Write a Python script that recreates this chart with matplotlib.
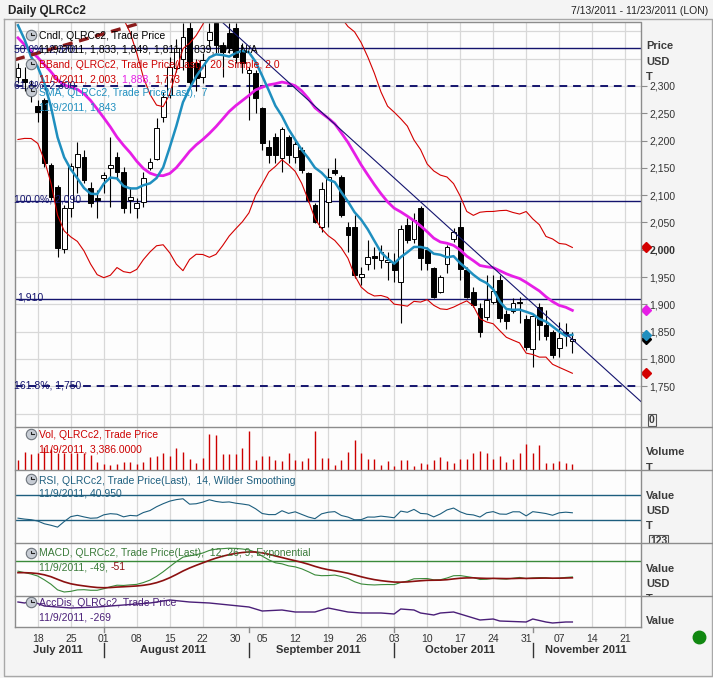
import matplotlib
matplotlib.use("Agg")
import matplotlib.pyplot as plt
import numpy as np
import pandas as pd

plt.rcParams["font.family"] = ["Liberation Sans", "DejaVu Sans"]

W, H = 713, 678

# ------------------------------
# Data
# ------------------------------

first_session = "2011-07-13"
last_session = "2011-11-23"
closed_days = ["2011-08-29"]  # LON bank holiday

# closes of the sessions before 7/13 (not drawn), estimated so that the
# first SMA / BBand / MACD values agree with the chart
seed_close = [2560, 2530, 2480, 2420, 2360, 2300, 2260, 2240, 2250, 2290,
              2330, 2403, 2460, 2490, 2513, 2380, 2367, 2400, 2394]

opens = [2316, 2313, 2300, 2263, 2274, 2155, 2115, 2001, 2077, 2152,
         2170, 2113, 2095, 2132, 2150, 2170, 2143, 2091, 2077, 2088,
         2150, 2166, 2243, 2284, 2333, 2350, 2406, 2342, 2316, 2384,
         2415, 2375, 2397, 2406, 2366, 2324, 2324, 2260, 2188, 2207,
         2168, 2207, 2170, 2183, 2141, 2082, 2042, 2088, 2146, 2133,
         2042, 2042, 1950, 1974, 1989, 1981, 1978, 1978, 1941, 2045,
         2020, 2077, 2000, 1967, 1923, 1974, 2020, 2042, 1963, 1923,
         1893, 1877, 1905, 1945, 1882, 1888, 1903, 1873, 1818, 1895,
         1862, 1849, 1820, 1849, 1833]
highs = [2342, 2335, 2310, 2274, 2278, 2159, 2119, 2082, 2159, 2197,
         2183, 2124, 2110, 2143, 2207, 2179, 2152, 2115, 2095, 2143,
         2168, 2241, 2289, 2353, 2385, 2415, 2420, 2350, 2360, 2415,
         2430, 2380, 2415, 2415, 2379, 2335, 2329, 2262, 2201, 2214,
         2225, 2210, 2201, 2188, 2143, 2086, 2124, 2150, 2168, 2137,
         2051, 2064, 1969, 2018, 2005, 2009, 1996, 1994, 2045, 2058,
         2067, 2080, 2005, 1969, 1954, 2009, 2040, 2088, 1969, 1932,
         1903, 1954, 1954, 1954, 1890, 1912, 1914, 1881, 1881, 1903,
         1890, 1853, 1868, 1866, 1849]
lows = [2305, 2290, 2270, 2234, 2152, 2091, 1987, 1994, 2060, 2104,
        2122, 2078, 2058, 2104, 2078, 2128, 2067, 2067, 2058, 2078,
        2146, 2164, 2234, 2278, 2325, 2330, 2298, 2290, 2305, 2371,
        2360, 2316, 2360, 2342, 2324, 2238, 2251, 2183, 2159, 2159,
        2143, 2159, 2159, 2141, 2088, 2049, 2033, 2042, 2137, 2060,
        1996, 1948, 1936, 1963, 1965, 1967, 1945, 1941, 1866, 2012,
        2012, 1963, 1963, 1912, 1921, 1958, 2014, 1945, 1912, 1895,
        1840, 1871, 1900, 1868, 1855, 1884, 1866, 1816, 1785, 1835,
        1835, 1802, 1804, 1824, 1811]
closes = [2333, 2307, 2290, 2252, 2159, 2097, 2003, 2077, 2153, 2175,
          2128, 2086, 2091, 2137, 2155, 2143, 2077, 2097, 2086, 2132,
          2161, 2223, 2280, 2335, 2370, 2390, 2307, 2315, 2348, 2399,
          2375, 2362, 2370, 2353, 2342, 2329, 2278, 2196, 2174, 2174,
          2221, 2174, 2194, 2146, 2091, 2051, 2111, 2133, 2141, 2064,
          2027, 1954, 1956, 1987, 1985, 1996, 1981, 1963, 2038, 2018,
          2055, 1985, 1976, 1914, 1950, 2005, 2033, 1965, 1914, 1899,
          1850, 1908, 1925, 1875, 1870, 1903, 1902, 1822, 1879, 1862,
          1842, 1807, 1838, 1846, 1836]
volumes = [5600, 10200, 9000, 9600, 13000, 11900, 9600, 9600, 9600, 9600,
           9600, 8500, 4500, 3400, 2800, 3400, 4500, 4500, 3400, 4500,
           7300, 7900, 9600, 7900, 12400, 10200, 6200, 4000, 6800, 20300,
           19800, 9000, 9000, 9000, 12400, 22000, 5600, 7900, 7900, 5600,
           5100, 9600, 5600, 5100, 6800, 22000, 6800, 6800, 2800, 5600,
           10200, 17000, 9600, 6200, 6200, 2800, 5100, 2300, 5600, 5600,
           2300, 4000, 3400, 5600, 7300, 5100, 4000, 6200, 6200, 9600,
           10700, 9600, 6200, 7900, 4500, 6200, 9600, 14700, 9600, 14100,
           4000, 4000, 5100, 4000, 3386]

# accumulation / distribution, read at a subset of sessions
acc_days = [0, 1, 2, 4, 8, 12, 16, 20, 23, 26, 29, 32, 35, 37, 40, 42, 45,
            47, 50, 52, 55, 57, 58, 60, 61, 63, 64, 66, 68, 70, 72, 73, 77,
            78, 80, 81, 83, 84]
acc_values = [131, 111, 151, 51, 11, 31, 71, 111, 171, 131, 111, 71, 31, -49,
              -29, -69, -69, 11, -69, -89, -89, -109, -9, -29, -89, -129, -89,
              -69, -149, -229, -209, -249, -269, -209, -269, -289, -269, -269]

fib_solid = [2370, 2090, 1910]
fib_dashed = [2300, 1750]
trend_up_days = [-0.45, 18.8]
trend_up_price = [2348, 2416]
trend_down_days = [31.1, 94.4]
trend_down_price = [2415, 1722]

week_ticks = ["2011-07-18", "2011-07-25", "2011-08-01", "2011-08-08",
              "2011-08-15", "2011-08-22", "2011-08-30", "2011-09-05",
              "2011-09-12", "2011-09-19", "2011-09-26", "2011-10-03",
              "2011-10-10", "2011-10-17", "2011-10-24", "2011-10-31",
              "2011-11-07", "2011-11-14", "2011-11-21"]
month_names = ["July 2011", "August 2011", "September 2011", "October 2011",
               "November 2011"]
price_ticks = list(range(1750, 2301, 50))
price_grid = list(range(1700, 2401, 50))
rsi_levels = [70, 30]

# ------------------------------
# Styles
# ------------------------------
GRID = "#d8d8d8"
FRAME = "#8c8c8c"
BB_RED = "#d40000"
MID_MAG = "#e61ee6"
SMA_BLUE = "#1f8fbf"
FIB_NAVY = "#14146e"
TREND_RED = "#8b1a1a"
VOL_RED = "#cc0000"
RSI_COL = "#1d5e7e"
MACD_COL = "#3a8a3a"
SIG_COL = "#8b1010"
ACC_COL = "#4a1f78"
LABEL = "#3c3c3c"

# ------------------------------
# Sessions and indicators
# ------------------------------
sessions = pd.bdate_range(first_session, last_session)
sessions = sessions[~sessions.isin(pd.to_datetime(closed_days))]
n_sessions = len(sessions)
idx = np.arange(len(closes))
o = np.array(opens, float)
c = np.array(closes, float)

close_all = pd.Series(seed_close + closes, dtype=float)
n_seed = len(seed_close)
sma7 = close_all.rolling(7).mean().iloc[n_seed:].to_numpy()
mid20 = close_all.rolling(20).mean()
sd20 = close_all.rolling(20).std(ddof=0)
bb_up = (mid20 + 2 * sd20).iloc[n_seed:].to_numpy()
bb_lo = (mid20 - 2 * sd20).iloc[n_seed:].to_numpy()
bb_mid = mid20.iloc[n_seed:].to_numpy()

delta = close_all.diff()
avg_gain = delta.clip(lower=0).ewm(alpha=1 / 14, adjust=False).mean()
avg_loss = (-delta).clip(lower=0).ewm(alpha=1 / 14, adjust=False).mean()
rsi = (100 - 100 / (1 + avg_gain / avg_loss)).iloc[n_seed:].to_numpy()

ema12 = close_all.ewm(span=12, adjust=False).mean()
ema26 = close_all.ewm(span=26, adjust=False).mean()
macd_all = ema12 - ema26
signal = macd_all.ewm(span=9, adjust=False).mean().iloc[n_seed:].to_numpy()
macd = macd_all.iloc[n_seed:].to_numpy()

tick_pos = [sessions.get_loc(pd.Timestamp(d)) for d in week_ticks]
tick_lab = [pd.Timestamp(d).strftime("%d") for d in week_ticks]
month_id = sessions.to_period("M")
month_start = [i for i in range(n_sessions) if i == 0 or month_id[i] != month_id[i - 1]]
month_mid = [np.mean(np.where(month_id == m)[0]) for m in month_id.unique()]


# ------------------------------
# Figure
# ------------------------------
def rect(x0, y0, x1, y1):
    return [x0 / W, 1 - y1 / H, (x1 - x0) / W, (y1 - y0) / H]


fig = plt.figure(figsize=(W / 100, H / 100), dpi=100, facecolor="#f4f4f4")

rows = [(22, 427), (427, 470), (470, 543), (543, 596), (596, 627)]
axes = []
labs = []
for top, bot in rows:
    ax = fig.add_axes(rect(15, top, 641, bot))
    ax.set_facecolor("#fdfdfd")
    for sp in ax.spines.values():
        sp.set_visible(False)
    ax.tick_params(left=False, bottom=False, right=False,
                   labelleft=False, labelbottom=False)
    ax.set_xlim(-0.45, 94.4)
    for t in tick_pos:
        ax.axvline(t, color=GRID, lw=0.9, zorder=0)
    axes.append(ax)
    lab = fig.add_axes(rect(641, top, 713, bot))
    lab.set_xlim(641, 713)
    lab.set_ylim(bot, top)
    lab.axis("off")
    labs.append(lab)
ax_p, ax_v, ax_r, ax_m, ax_a = axes
lab_p, lab_v, lab_r, lab_m, lab_a = labs

# --- price panel ---
ax_p.set_ylim(1675.5, 2417)
for lvl in price_grid:
    ax_p.axhline(lvl, color=GRID, lw=0.9, zorder=0)
ax_p.yaxis.tick_right()
ax_p.set_yticks(price_ticks)
ax_p.set_yticklabels([f"{v:,}" for v in price_ticks])
ax_p.tick_params(axis="y", right=True, labelright=True, length=4,
                 color=FRAME, labelsize=7.5, labelcolor="#333333", pad=2)
for tl in ax_p.get_yticklabels():
    if tl.get_text() == "2,000":
        tl.set_fontweight("bold")

for lvl in fib_solid:
    ax_p.axhline(lvl, color=FIB_NAVY, lw=1.0, zorder=1)
for lvl in fib_dashed:
    ax_p.axhline(lvl, color=FIB_NAVY, lw=1.4, dashes=(4, 3), zorder=1)
ax_p.plot(trend_up_days, trend_up_price, color=TREND_RED, lw=2.4,
          dashes=(3, 2), zorder=6)
ax_p.plot(trend_down_days, trend_down_price, color=FIB_NAVY, lw=0.8, zorder=6)

up = c >= o
body_lo = np.minimum(o, c)
body_h = np.maximum(np.abs(c - o), 1.5)
ax_p.vlines(idx, lows, highs, color="black", lw=0.8, zorder=2)
ax_p.bar(idx, body_h, bottom=body_lo, width=0.72,
         color=np.where(up, "white", "black"), edgecolor="black",
         linewidth=0.7, zorder=3)

ax_p.plot(idx, bb_up, color=BB_RED, lw=0.8, zorder=4)
ax_p.plot(idx, bb_lo, color=BB_RED, lw=0.8, zorder=4)
ax_p.plot(idx, bb_mid, color=MID_MAG, lw=2.0, zorder=4)
ax_p.plot(idx, sma7, color=SMA_BLUE, lw=1.8, zorder=5)

ytr = ax_p.get_yaxis_transform()
for val, col in [(bb_up[-1], BB_RED), (bb_mid[-1], MID_MAG),
                 (bb_lo[-1], BB_RED), (c[-1], "black"), (sma7[-1], SMA_BLUE)]:
    ax_p.plot(1.008, val, marker="D", ms=5, color=col, transform=ytr,
              clip_on=False, zorder=7)

# --- volume panel ---
ax_v.set_ylim(0, 24300)
ax_v.vlines(idx, 0, volumes, color=VOL_RED, lw=1.0, zorder=2)

# --- RSI panel ---
ax_r.set_ylim(-7.6, 109.2)
for lvl in rsi_levels:
    ax_r.axhline(lvl, color=RSI_COL, lw=1.0, zorder=1)
ax_r.plot(idx, rsi, color=RSI_COL, lw=0.8, zorder=2)

# --- MACD panel: zero line 18 px below the top, lowest value 4 px above the bottom ---
macd_low = min(macd.min(), signal.min())
px_per_unit = 31.0 / -macd_low
ax_m.set_ylim(-35.0 / px_per_unit, 18.0 / px_per_unit)
ax_m.axhline(0, color=MACD_COL, lw=1.0, zorder=1)
ax_m.plot(idx, macd, color=MACD_COL, lw=0.8, zorder=2)
ax_m.plot(idx, signal, color=SIG_COL, lw=1.2, zorder=3)

# --- AccDis panel ---
ax_a.set_ylim(-369, 251)
ax_a.plot(acc_days, acc_values, color=ACC_COL, lw=1.0, zorder=2)

ax_a.set_xticks(tick_pos)
ax_a.set_xticklabels(tick_lab)
ax_a.tick_params(axis="x", bottom=True, labelbottom=True, length=0, pad=5,
                 labelsize=7.5, labelcolor="#333333")
xtr = ax_a.get_xaxis_transform()
for i in month_start[1:]:
    ax_a.plot([i, i], [0, -0.17], color=FRAME, lw=1, transform=xtr, clip_on=False)
    ax_a.plot([i, i], [-0.52, -0.97], color="#333333", lw=1, transform=xtr,
              clip_on=False)
for m, name in zip(month_mid, month_names):
    ax_a.text(m, -0.74, name, transform=xtr, ha="center", va="center",
              fontsize=8, fontweight="bold", color="#333333")

# --- right side labels ---
bold = dict(fontsize=8, fontweight="bold", color=LABEL, va="center",
            ha="left", clip_on=True)
for y, s in [(46, "Price"), (62, "USD"), (77, "T")]:
    lab_p.text(646, y, s, **bold)
lab_p.text(649, 420, "0", fontsize=7.5, fontweight="bold", color=LABEL,
           va="center", ha="left",
           bbox=dict(boxstyle="square,pad=0.1", fc="none", ec="#555555", lw=0.8))
lab_v.text(646, 452, "Volume", **bold)
lab_v.text(646, 468, "T", **bold)
for y, s in [(496, "Value"), (511, "USD"), (526, "T")]:
    lab_r.text(646, y, s, **bold)
lab_r.text(650, 541, "123", fontsize=7.5, fontweight="bold", color=LABEL,
           va="center", ha="left", clip_on=True,
           bbox=dict(boxstyle="square,pad=0.1", fc="none", ec="#555555", lw=0.8))
for y, s in [(569, "Value"), (584, "USD"), (599, "T")]:
    lab_m.text(646, y, s, **bold)
lab_a.text(646, 621, "Value", **bold)

# ------------------------------
# Overlay: frame, titles, legends
# ------------------------------
ov = fig.add_axes([0, 0, 1, 1])
ov.set_xlim(0, W)
ov.set_ylim(H, 0)
ov.axis("off")

ov.plot([4, 712, 712, 4, 4], [19, 19, 676, 676, 19], color="#a8a8a8", lw=1)
ov.plot([15, 641, 641], [22, 22, 627], color=FRAME, lw=1)
ov.plot([15, 15], [22, 627], color=FRAME, lw=1)
for y in [427, 470, 543, 596]:
    ov.plot([15, 713], [y, y], color=FRAME, lw=1)
ov.plot([15, 641], [627, 627], color=FRAME, lw=1)

ov.text(8, 11, "Daily QLRCc2", fontsize=8.5, fontweight="bold",
        color="#222222", va="center")
ov.text(708, 11, "7/13/2011 - 11/23/2011 (LON)", fontsize=7.5,
        color="#222222", va="center", ha="right")
ov.plot(699, 637, "o", ms=9, color="#118811")


def clock(x, y):
    ov.plot(x, y, "o", ms=7.5, mfc="#c7ccd4", mec="#6d747c", mew=0.8)
    ov.plot([x, x, x + 2.5], [y - 2.5, y, y], color="#222222", lw=0.8)


leg = dict(fontsize=7.5, va="center", ha="left")
fib = dict(fontsize=7.5, va="center", ha="left", color=FIB_NAVY)

# fibonacci labels sit on the left edge, under the legend as in the reference
ov.text(14, 49, "50.0%, 2,370", **fib)
ov.text(14, 85, "61.8%, 2,300", **fib)
ov.text(14, 199, "100.0%, 2,090", **fib)
ov.text(14, 386, "161.8%, 1,750", **fib)
ov.text(17, 298, "1,910", **fib)

clock(31, 35)
ov.text(39, 36, "Cndl, QLRCc2, Trade Price", color="black", **leg)
ov.text(39, 50, "11/9/2011, 1,833, 1,849, 1,811, 1,839, N/A, N/A",
        color="black", **leg)
clock(31, 64)
ov.text(39, 65, "BBand, QLRCc2, Trade Price(Last),  20, Simple, 2.0",
        color=VOL_RED, **leg)
t1 = ov.text(39, 79, "11/9/2011, 2,003, ", color=VOL_RED, **leg)
t2 = ov.annotate("1,888, ", xy=(1, 0), xycoords=t1, va="bottom",
                 fontsize=7.5, color=MID_MAG)
ov.annotate("1,773", xy=(1, 0), xycoords=t2, va="bottom", fontsize=7.5,
            color=VOL_RED)
clock(31, 91)
ov.text(39, 93, "SMA, QLRCc2, Trade Price(Last),  7", color=SMA_BLUE, **leg)
ov.text(39, 107, "11/9/2011, 1,843", color=SMA_BLUE, **leg)

clock(31, 434)
ov.text(39, 435, "Vol, QLRCc2, Trade Price", color=VOL_RED, **leg)
ov.text(39, 449, "11/9/2011, 3,386.0000", color=VOL_RED, **leg)

clock(31, 479)
ov.text(39, 481, "RSI, QLRCc2, Trade Price(Last),  14, Wilder Smoothing",
        color=RSI_COL, **leg)
ov.text(39, 494, "11/9/2011, 40.950", color=RSI_COL, **leg)

clock(31, 553)
ov.text(39, 553, "MACD, QLRCc2, Trade Price(Last),  12, 26, 9, Exponential",
        color="#3a7a3a", **leg)
t3 = ov.text(39, 567, "11/9/2011, -49, ", color="#3a7a3a", **leg)
ov.annotate("-51", xy=(1, 0), xycoords=t3, va="bottom", fontsize=7.5,
            color=SIG_COL)

clock(31, 602)
ov.text(39, 603, "AccDis, QLRCc2, Trade Price", color=ACC_COL, **leg)
ov.text(39, 618, "11/9/2011, -269", color=ACC_COL, **leg)

fig.savefig("out.png", dpi=100, facecolor=fig.get_facecolor())
